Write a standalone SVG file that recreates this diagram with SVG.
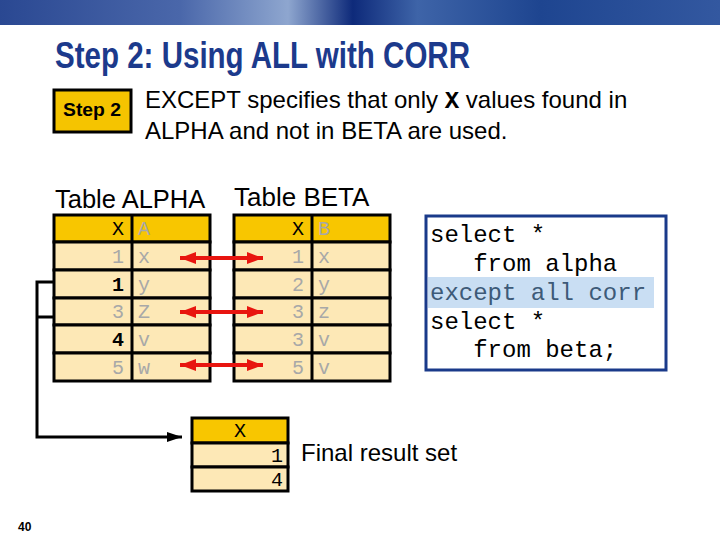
<svg xmlns="http://www.w3.org/2000/svg" width="720" height="540" viewBox="0 0 720 540">
<defs>
<linearGradient id="ban" x1="0" y1="0" x2="1" y2="0">
<stop offset="0" stop-color="#2a4892"/>
<stop offset="0.25" stop-color="#4a67aa"/>
<stop offset="0.4" stop-color="#8ea6cf"/>
<stop offset="0.49" stop-color="#0e2a7a"/>
<stop offset="0.58" stop-color="#3e64a8"/>
<stop offset="0.75" stop-color="#1e4590"/>
<stop offset="1" stop-color="#3358a0"/>
</linearGradient>
<marker id="ah" viewBox="0 0 10 10" refX="10" refY="5" markerWidth="4" markerHeight="3" orient="auto-start-reverse" markerUnits="strokeWidth" preserveAspectRatio="none">
<path d="M0,0 L10,5 L0,10 z" fill="#e8150f"/>
</marker>
<marker id="bh" viewBox="0 0 10 10" refX="10" refY="5" markerWidth="5" markerHeight="3.3" orient="auto" markerUnits="strokeWidth" preserveAspectRatio="none">
<path d="M0,0 L10,5 L0,10 z" fill="#000"/>
</marker>
</defs>
<style>
.hd{fill:#f8c600;stroke:#000;stroke-width:3}
.rw{fill:#fde8b6;stroke:#000;stroke-width:3}
.ln{stroke:#000;stroke-width:3}
.mono{font-family:"Liberation Mono","Courier New",monospace;font-size:20px}
.g{fill:#a8a8a8}
.k{fill:#000}
.b{font-weight:bold}
.sans{font-family:"Liberation Sans",Arial,sans-serif}
.code{font-family:"Liberation Mono","Courier New",monospace;font-size:24px;fill:#000}
.red{stroke:#e8150f;stroke-width:4;fill:none}
</style>
<rect x="0" y="0" width="720" height="25" fill="url(#ban)"/>
<text x="55" y="68" font-family="'Liberation Sans Narrow','Arial Narrow','Liberation Sans',sans-serif" font-weight="bold" font-size="36" fill="#1c3a8c" textLength="415" lengthAdjust="spacingAndGlyphs">Step 2: Using ALL with CORR</text>

<g id="step">
<rect x="54" y="90" width="77" height="42" fill="#f5c400" stroke="#000" stroke-width="3"/>
<text x="92" y="116" text-anchor="middle" class="sans b" font-size="18" textLength="58" lengthAdjust="spacingAndGlyphs">Step 2</text>
</g>
<g id="desc" class="sans" font-size="24">
<text x="145" y="108">EXCEPT specifies that only <tspan font-family="'Liberation Mono','Courier New',monospace" font-weight="bold">X</tspan> values found in</text>
<text x="145" y="139">ALPHA and not in BETA are used.</text>
</g>

<g id="alpha">
<text x="55" y="208" class="sans" font-size="25.5">Table ALPHA</text>
<rect x="54" y="215" width="156" height="27" class="hd"/>
<rect x="54" y="242" width="156" height="28" class="rw"/>
<rect x="54" y="270" width="156" height="28" class="rw"/>
<rect x="54" y="298" width="156" height="27" class="rw"/>
<rect x="54" y="325" width="156" height="28" class="rw"/>
<rect x="54" y="353" width="156" height="28" class="rw"/>
<line x1="132" y1="215" x2="132" y2="381" class="ln"/>
<g class="mono" text-anchor="end">
<text x="124" y="235" class="k">X</text>
<text x="124" y="263" class="g">1</text>
<text x="124" y="291" class="k b">1</text>
<text x="124" y="318" class="g">3</text>
<text x="124" y="346" class="k b">4</text>
<text x="124" y="374" class="g">5</text>
</g>
<g class="mono g">
<text x="138" y="235">A</text>
<text x="138" y="263">x</text>
<text x="138" y="291">y</text>
<text x="138" y="318">Z</text>
<text x="138" y="346">v</text>
<text x="138" y="374">w</text>
</g>
</g>

<g id="beta">
<text x="234" y="206" class="sans" font-size="26">Table BETA</text>
<rect x="234" y="215" width="156" height="27" class="hd"/>
<rect x="234" y="242" width="156" height="28" class="rw"/>
<rect x="234" y="270" width="156" height="28" class="rw"/>
<rect x="234" y="298" width="156" height="27" class="rw"/>
<rect x="234" y="325" width="156" height="28" class="rw"/>
<rect x="234" y="353" width="156" height="28" class="rw"/>
<line x1="312" y1="215" x2="312" y2="381" class="ln"/>
<g class="mono" text-anchor="end">
<text x="304" y="235" class="k">X</text>
<text x="304" y="263" class="g">1</text>
<text x="304" y="291" class="g">2</text>
<text x="304" y="318" class="g">3</text>
<text x="304" y="346" class="g">3</text>
<text x="304" y="374" class="g">5</text>
</g>
<g class="mono g">
<text x="318" y="235">B</text>
<text x="318" y="263">x</text>
<text x="318" y="291">y</text>
<text x="318" y="318">z</text>
<text x="318" y="346">v</text>
<text x="318" y="374">v</text>
</g>
</g>

<g id="code">
<rect x="426" y="216" width="240" height="154" fill="#fff" stroke="#1a3a8a" stroke-width="3"/>
<rect x="428" y="277" width="226" height="31" fill="#c9def3"/>
<text x="430" y="242" class="code">select *</text>
<text x="430" y="271" class="code" xml:space="preserve">   from alpha</text>
<text x="430" y="300" class="code" style="fill:#3d5a78">except all corr</text>
<text x="430" y="329" class="code">select *</text>
<text x="430" y="357" class="code" xml:space="preserve">   from beta;</text>
</g>

<g id="result">
<rect x="192" y="418" width="96" height="25" class="hd"/>
<rect x="192" y="443" width="96" height="24" class="rw"/>
<rect x="192" y="467" width="96" height="24" class="rw"/>
<g class="mono k" text-anchor="end">
<text x="246" y="437">X</text>
<text x="283" y="462">1</text>
<text x="283" y="486">4</text>
</g>
<text x="301" y="461" class="sans" font-size="24">Final result set</text>
</g>

<g id="connectors">
<line x1="180" y1="258" x2="263" y2="258" class="red" marker-start="url(#ah)" marker-end="url(#ah)"/>
<line x1="180" y1="312" x2="263" y2="312" class="red" marker-start="url(#ah)" marker-end="url(#ah)"/>
<line x1="180" y1="365" x2="263" y2="365" class="red" marker-start="url(#ah)" marker-end="url(#ah)"/>
<path d="M54,282 H37 V317 H54 M37,317 V437 H182" fill="none" stroke="#000" stroke-width="3" marker-end="url(#bh)"/>
</g>

<text x="18" y="531" class="sans b" font-size="12">40</text>
</svg>
